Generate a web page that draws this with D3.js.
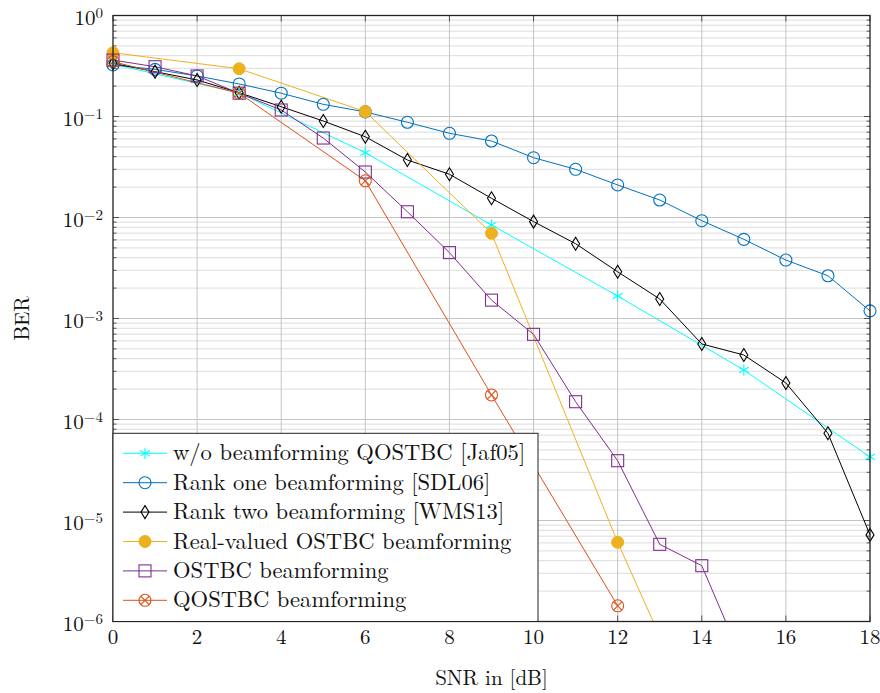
<!DOCTYPE html>
<html>
<head>
<meta charset="utf-8">
<script src="https://cdn.jsdelivr.net/npm/d3@7"></script>
<style>
body { margin: 0; background: #fff; }
</style>
</head>
<body>
<svg id="chart" width="880" height="693"></svg>
<script>
// x positions (SNR in dB)
const snrAll = [0,1,2,3,4,5,6,7,8,9,10,11,12,13,14,15,16,17,18];
const snrStep3 = [0,3,6,9,12,15,18];
const snrReal = [0,3,6,9,12,15];
const snrQ = [0,3,6,9,12];

// BER values
const berNoBf    = [0.33, 0.171, 0.0438, 0.00843, 0.00167, 3.09e-4, 4.26e-5];
const berRankOne = [0.324, 0.293, 0.252, 0.21, 0.17, 0.132, 0.111, 0.0877, 0.0682, 0.0572,
                    0.0391, 0.030, 0.021, 0.0149, 0.0093, 0.00608, 0.00379, 0.00265, 0.00119];
const berRankTwo = [0.336, 0.278, 0.23, 0.172, 0.125, 0.0902, 0.063, 0.0371, 0.0268, 0.0155,
                    0.0091, 0.0055, 0.0029, 0.00156, 5.6e-4, 4.35e-4, 2.3e-4, 7.3e-5, 7.2e-6];
const berRealOstbc = [0.428, 0.297, 0.1116, 0.00697, 6.08e-6, 1.0e-8];
const berOstbc   = [0.362, 0.311, 0.252, 0.170, 0.116, 0.0612, 0.0282, 0.0114, 0.00449, 0.00152,
                    6.97e-4, 1.5e-4, 3.91e-5, 5.81e-6, 3.57e-6, 3.8e-7];
const berQostbc  = [0.349, 0.17, 0.0231, 1.75e-4, 1.43e-6];

const legendNames = [
  "w/o beamforming QOSTBC [Jaf05]",
  "Rank one beamforming [SDL06]",
  "Rank two beamforming [WMS13]",
  "Real-valued OSTBC beamforming",
  "OSTBC beamforming",
  "QOSTBC beamforming"
];
const xTicks = [0,2,4,6,8,10,12,14,16,18];
const yDecades = [0,-1,-2,-3,-4,-5,-6];

const series = [
  {name: legendNames[0], x: snrStep3, y: berNoBf, color: "#00ffff", mark: "star"},
  {name: legendNames[1], x: snrAll, y: berRankOne, color: "#0072bd", mark: "circle"},
  {name: legendNames[2], x: snrAll, y: berRankTwo, color: "#000000", mark: "diamond"},
  {name: legendNames[3], x: snrReal, y: berRealOstbc, color: "#edb120", mark: "dot"},
  {name: legendNames[4], x: snrAll.slice(0, berOstbc.length), y: berOstbc, color: "#7e2f8e", mark: "square"},
  {name: legendNames[5], x: snrQ, y: berQostbc, color: "#d95319", mark: "otimes"}
];

const FONT = '"Latin Modern Roman", "Liberation Serif", serif';

const margin = {top: 15.5, right: 10, bottom: 71.5, left: 113};
const width = 880, height = 693;
const svg = d3.select("#chart");
const pw = width - margin.left - margin.right;
const ph = height - margin.top - margin.bottom;

const x = d3.scaleLinear().domain([0, 18]).range([0, pw]);
const y = d3.scaleLog().domain([1e-6, 1]).range([ph, 0]);

const g = svg.append("g").attr("transform", `translate(${margin.left},${margin.top})`);

svg.append("defs").append("clipPath").attr("id", "plotclip")
  .append("rect").attr("width", pw).attr("height", ph);

// grid
const minorVals = [];
for (let e = -6; e < 0; e++) for (let m = 2; m <= 9; m++) minorVals.push(m * Math.pow(10, e));

g.append("g").selectAll("line").data(minorVals).join("line")
  .attr("x1", 0).attr("x2", pw)
  .attr("y1", d => y(d)).attr("y2", d => y(d))
  .attr("stroke", "#dcdcdc").attr("stroke-width", 1);
g.append("g").selectAll("line").data(yDecades.slice(1, -1)).join("line")
  .attr("x1", 0).attr("x2", pw)
  .attr("y1", d => y(Math.pow(10, d))).attr("y2", d => y(Math.pow(10, d)))
  .attr("stroke", "#c4c4c4").attr("stroke-width", 1);
g.append("g").selectAll("line").data(xTicks.slice(1, -1)).join("line")
  .attr("x1", d => x(d)).attr("x2", d => x(d))
  .attr("y1", 0).attr("y2", ph)
  .attr("stroke", "#c4c4c4").attr("stroke-width", 1);

// ticks (inward, both sides)
const tk = g.append("g").attr("stroke", "#333").attr("stroke-width", 0.8);
xTicks.forEach(t => {
  tk.append("line").attr("x1", x(t)).attr("x2", x(t)).attr("y1", ph).attr("y2", ph - 6);
  tk.append("line").attr("x1", x(t)).attr("x2", x(t)).attr("y1", 0).attr("y2", 6);
});
yDecades.forEach(e => {
  const yy = y(Math.pow(10, e));
  tk.append("line").attr("x1", 0).attr("x2", 6).attr("y1", yy).attr("y2", yy);
  tk.append("line").attr("x1", pw).attr("x2", pw - 6).attr("y1", yy).attr("y2", yy);
});
minorVals.forEach(v => {
  const yy = y(v);
  tk.append("line").attr("x1", 0).attr("x2", 3.5).attr("y1", yy).attr("y2", yy);
  tk.append("line").attr("x1", pw).attr("x2", pw - 3.5).attr("y1", yy).attr("y2", yy);
});

// markers
function drawMark(sel, type, color) {
  if (type === "circle") {
    sel.append("circle").attr("r", 6).attr("fill", "none").attr("stroke", color).attr("stroke-width", 1.1);
  } else if (type === "dot") {
    sel.append("circle").attr("r", 6).attr("fill", color).attr("stroke", color);
  } else if (type === "square") {
    sel.append("rect").attr("x", -6).attr("y", -6).attr("width", 12).attr("height", 12)
      .attr("fill", "none").attr("stroke", color).attr("stroke-width", 1.1);
  } else if (type === "diamond") {
    sel.append("path").attr("d", "M0,-6.5L4,0L0,6.5L-4,0Z")
      .attr("fill", "none").attr("stroke", color).attr("stroke-width", 1.1);
  } else if (type === "star") {
    sel.append("path").attr("d", d3.symbol(d3.symbolAsterisk, 90)())
      .attr("fill", "none").attr("stroke", color).attr("stroke-width", 1.1);
  } else if (type === "otimes") {
    sel.append("circle").attr("r", 6).attr("fill", "none").attr("stroke", color).attr("stroke-width", 1.1);
    const r = 6 / Math.SQRT2;
    sel.append("path").attr("d", `M${-r},${-r}L${r},${r}M${-r},${r}L${r},${-r}`)
      .attr("stroke", color).attr("stroke-width", 1.1);
  }
}

const line = d3.line().x(d => x(d[0])).y(d => y(d[1]));
const lines = g.append("g").attr("clip-path", "url(#plotclip)");
series.forEach(s => {
  const pts = s.x.map((xv, i) => [xv, s.y[i]]);
  lines.append("path").datum(pts).attr("d", line)
    .attr("fill", "none").attr("stroke", s.color).attr("stroke-width", 1);
});
series.forEach(s => {
  const pts = s.x.map((xv, i) => [xv, s.y[i]]).filter(d => d[1] >= 1e-6 && d[1] <= 1);
  pts.forEach(p => {
    const m = g.append("g").attr("transform", `translate(${x(p[0])},${y(p[1])})`);
    drawMark(m, s.mark, s.color);
  });
});

// frame
g.append("rect").attr("width", pw).attr("height", ph)
  .attr("fill", "none").attr("stroke", "#222").attr("stroke-width", 1.3);

// tick labels
g.append("g").selectAll("text").data(xTicks).join("text")
  .attr("x", d => x(d)).attr("y", ph + 22)
  .attr("text-anchor", "middle").attr("font-size", 21)
  .style("font-family", FONT).attr("fill", "#111").text(d => d);

yDecades.forEach(e => {
  const t = g.append("text").attr("x", -10).attr("y", y(Math.pow(10, e)) + 9)
    .attr("text-anchor", "end").attr("font-size", 21)
    .style("font-family", FONT).attr("fill", "#111");
  t.append("tspan").text("10");
  t.append("tspan").attr("dy", -7).attr("font-size", 15).text(e === 0 ? "0" : "\u2212" + (-e));
});

// axis labels
svg.append("text").attr("x", margin.left + pw / 2).attr("y", 685)
  .attr("text-anchor", "middle").attr("font-size", 21)
  .style("font-family", FONT).attr("fill", "#111").text("SNR in [dB]");
svg.append("text").attr("transform", `translate(29,${margin.top + ph / 2}) rotate(-90)`)
  .attr("text-anchor", "middle").attr("font-size", 21)
  .style("font-family", FONT).attr("fill", "#111").text("BER");

// legend
const lg = g.append("g");
const lgTop = 433.3 - margin.top;
lg.append("rect").attr("x", 0).attr("y", lgTop).attr("width", 425).attr("height", ph - lgTop)
  .attr("fill", "#fff").attr("stroke", "#222").attr("stroke-width", 1);
series.forEach((s, i) => {
  const yy = lgTop + 20 + i * 29.4;
  lg.append("line").attr("x1", 10).attr("x2", 54).attr("y1", yy).attr("y2", yy)
    .attr("stroke", s.color).attr("stroke-width", 1);
  drawMark(lg.append("g").attr("transform", `translate(32,${yy})`), s.mark, s.color);
  lg.append("text").attr("x", 60).attr("y", yy + 7).attr("font-size", 22.6)
    .style("font-family", FONT).attr("fill", "#111").text(s.name);
});
</script>
</body>
</html>
